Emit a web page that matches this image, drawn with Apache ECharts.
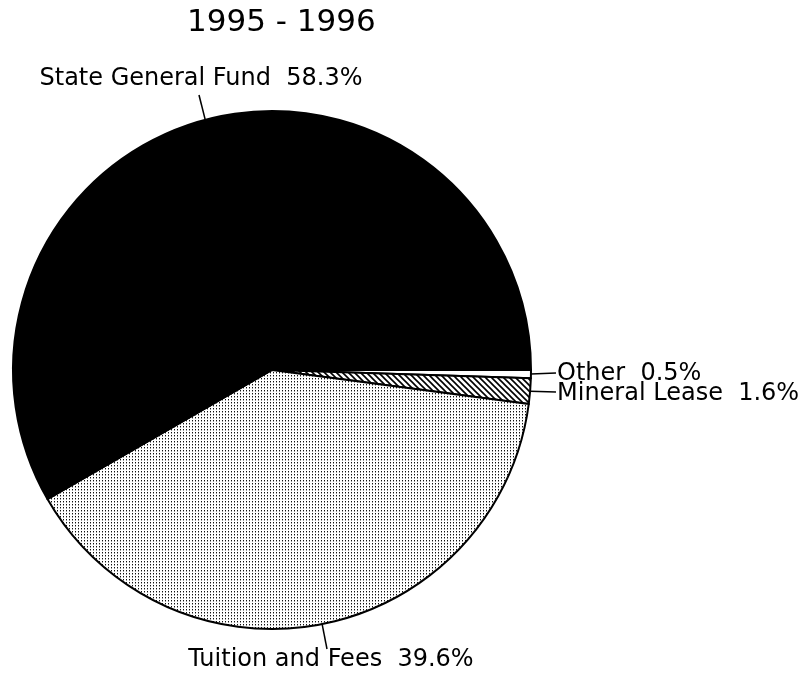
<!DOCTYPE html>
<html>
<head>
<meta charset="utf-8">
<script src="https://cdn.jsdelivr.net/npm/echarts@6/dist/echarts.min.js"></script>
<style>html,body{margin:0;padding:0;background:#fff}#c{width:804px;height:680px}</style>
</head>
<body>
<div id="c"></div>
<script>
const titleText = '1995 - 1996';
const categories = ['Other', 'Mineral Lease', 'Tuition and Fees', 'State General Fund'];
const values = [0.5, 1.6, 39.6, 58.3];

// layout (not data)
const CX = 272, CY = 370, R = 259;
const labelPos = [
  {x: 557, y: 374, align: 'left', end: [556, 373]},
  {x: 557, y: 394, align: 'left', end: [556, 392]},
  {x: 331, y: 660, align: 'center', end: [327, 649]},
  {x: 201, y: 79, align: 'center', end: [199, 95]}
];

function makePattern(kind) {
  const c = document.createElement('canvas');
  const ctx = c.getContext('2d');
  if (kind === 'dots') {
    c.width = 3; c.height = 3;
    ctx.fillStyle = '#ffffff'; ctx.fillRect(0, 0, 3, 3);
    ctx.fillStyle = '#111111'; ctx.fillRect(0, 0, 1, 1);
    ctx.fillStyle = '#999999'; ctx.fillRect(0, 1, 1, 1);
  } else {
    c.width = 6; c.height = 6;
    ctx.fillStyle = '#ffffff'; ctx.fillRect(0, 0, 6, 6);
    ctx.strokeStyle = '#000000'; ctx.lineWidth = 1.6;
    ctx.beginPath();
    ctx.moveTo(-1, -1); ctx.lineTo(7, 7);
    ctx.moveTo(-7, -1); ctx.lineTo(1, 7);
    ctx.moveTo(5, -1); ctx.lineTo(13, 7);
    ctx.stroke();
  }
  return {image: c, repeat: 'repeat'};
}

const fills = ['#ffffff', makePattern('hatch'), makePattern('dots'), '#000000'];

const total = values.reduce((a, b) => a + b, 0);
const midAngles = [];
let acc = 0;
values.forEach(v => { midAngles.push((acc + v / 2) / total * 360); acc += v; });

const chart = echarts.init(document.getElementById('c'), null, {renderer: 'canvas'});
chart.setOption({
  backgroundColor: '#ffffff',
  animation: false,
  title: {
    text: titleText,
    left: 182, top: 2,
    textStyle: {fontFamily: 'DejaVu Sans', fontSize: 31, fontWeight: 'normal', color: '#000'}
  },
  series: [{
    type: 'pie',
    center: [CX, CY],
    radius: R,
    startAngle: 0,
    clockwise: true,
    avoidLabelOverlap: false,
    minAngle: 0,
    data: categories.map((n, i) => ({
      name: n, value: values[i],
      itemStyle: {color: fills[i]}
    })),
    itemStyle: {borderColor: '#000', borderWidth: 2},
    label: {
      show: true,
      formatter: p => p.name + '  ' + p.value + '%',
      fontFamily: 'DejaVu Sans', fontSize: 24, color: '#000'
    },
    labelLine: {show: true, lineStyle: {color: '#000', width: 1.5}},
    labelLayout: function (params) {
      const i = params.dataIndex;
      const lp = labelPos[i];
      const a = midAngles[i] * Math.PI / 180;
      const edge = [CX + R * Math.cos(a), CY + R * Math.sin(a)];
      return {
        x: lp.x, y: lp.y, align: lp.align, verticalAlign: 'middle',
        labelLinePoints: [edge, lp.end, lp.end]
      };
    },
    emphasis: {disabled: true}
  }]
});
</script>
</body>
</html>
